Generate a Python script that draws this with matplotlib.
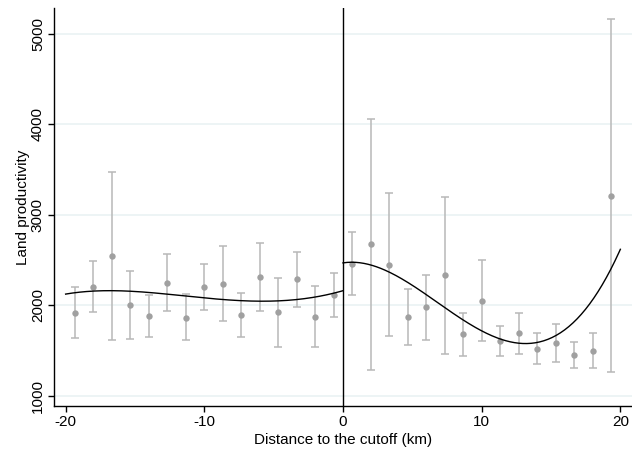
import numpy as np
import matplotlib
matplotlib.use("Agg")
import matplotlib.pyplot as plt

plt.rcParams["font.family"] = ["Liberation Sans", "DejaVu Sans"]
plt.rcParams["axes.unicode_minus"] = False

# Binned means with 95% CIs, 15 bins of 4/3 km on each side of the cutoff
bin_x_left = [-19.33, -18.0, -16.67, -15.33, -14.0, -12.67, -11.33, -10.0,
              -8.67, -7.33, -6.0, -4.67, -3.33, -2.0, -0.67]
mean_left = [1915, 2202, 2541, 2000, 1875, 2246, 1860, 2199,
             2235, 1890, 2312, 1919, 2283, 1868, 2114]
hi_left = [2199, 2486, 3475, 2379, 2107, 2563, 2118, 2456,
           2651, 2129, 2688, 2294, 2589, 2206, 2357]
lo_left = [1636, 1923, 1610, 1625, 1647, 1934, 1610, 1941,
           1820, 1650, 1937, 1540, 1978, 1533, 1871]

bin_x_right = [0.67, 2.0, 3.33, 4.67, 6.0, 7.33, 8.67, 10.0,
               11.33, 12.67, 14.0, 15.33, 16.67, 18.0, 19.33]
mean_right = [2453, 2670, 2445, 1864, 1978, 2327, 1676, 2044,
              1599, 1688, 1511, 1581, 1452, 1496, 3210]
hi_right = [2802, 4061, 3240, 2172, 2335, 3192, 1915, 2497,
            1764, 1915, 1687, 1794, 1592, 1691, 5157]
lo_right = [2110, 1286, 1654, 1558, 1617, 1462, 1440, 1599,
            1434, 1462, 1345, 1374, 1308, 1308, 1260]

# Polynomial fit values on each side
fit_x_left = [-20, -16.67, -13.33, -10, -6.67, -3.33, 0]
fit_y_left = [2121, 2158, 2130, 2080, 2042, 2062, 2158]
fit_x_right = [0, 3.36, 6.02, 7.36, 8.71, 10.02, 11.37, 12.71,
               14.05, 15.37, 16.71, 18.03, 19.38, 20]
fit_y_right = [2464, 2368, 2110, 1963, 1834, 1713, 1621, 1577,
               1595, 1669, 1816, 2055, 2423, 2615]

fig = plt.figure(figsize=(6.32, 4.58), dpi=100)
ax = fig.add_axes([0.0854, 0.1135, 0.9146, 0.869])

for x, m, hi, lo in [(bin_x_left, mean_left, hi_left, lo_left),
                     (bin_x_right, mean_right, hi_right, lo_right)]:
    m = np.asarray(m)
    yerr = [m - np.asarray(lo), np.asarray(hi) - m]
    ax.errorbar(x, m, yerr=yerr, fmt="none", ecolor="#b8b8b8",
                elinewidth=1.1, capsize=3, capthick=1.1, zorder=2)
    ax.plot(x, m, "o", color="#a0a0a0", markersize=4.6,
            markeredgewidth=0, zorder=3)

for fx, fy in [(fit_x_left, fit_y_left), (fit_x_right, fit_y_right)]:
    coef = np.polyfit(fx, fy, 4)
    xs = np.linspace(fx[0], fx[-1], 200)
    ax.plot(xs, np.polyval(coef, xs), color="black", lw=1.0, zorder=4)

ax.axvline(0, color="black", lw=1.0, zorder=4)

ax.set_xlim(-20.84, 20.84)
ax.set_ylim(884, 5282)
ax.set_xticks([-20, -10, 0, 10, 20])
ax.set_yticks([1000, 2000, 3000, 4000, 5000])
ax.yaxis.grid(True, color="#eaf2f3", lw=1.2)
ax.set_axisbelow(True)
for s in ("top", "right"):
    ax.spines[s].set_visible(False)
for s in ("left", "bottom"):
    ax.spines[s].set_linewidth(1.0)
ax.tick_params(axis="both", labelsize=11, length=4, width=1.0, pad=2.5)
plt.setp(ax.get_yticklabels(), rotation=90, va="center")
ax.set_xlabel("Distance to the cutoff (km)", fontsize=11, labelpad=3)
ax.set_ylabel("Land productivity", fontsize=11, labelpad=1)

fig.savefig("out.png", dpi=100)
